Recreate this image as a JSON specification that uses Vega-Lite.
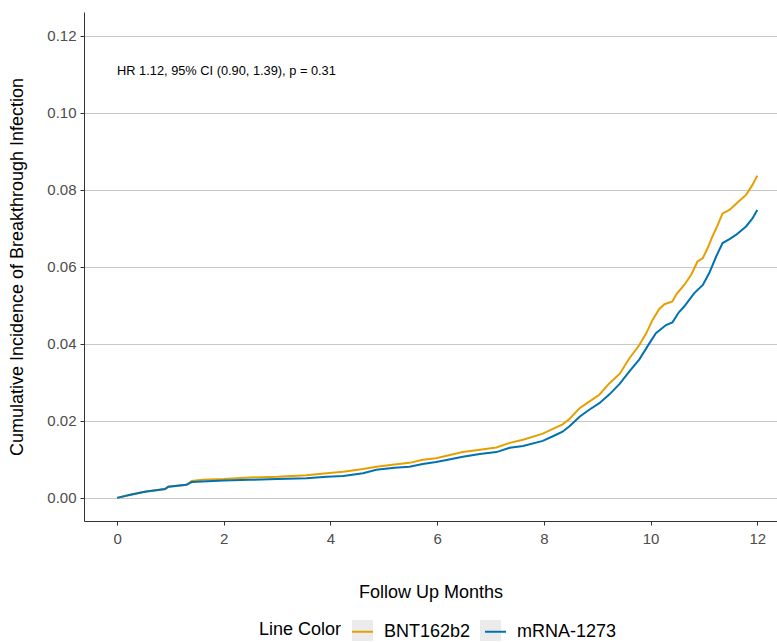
{
  "$schema": "https://vega.github.io/schema/vega-lite/v6.json",
  "width": 693,
  "height": 509,
  "autosize": {"type": "none"},
  "padding": {"left": 84, "top": 12, "right": 0, "bottom": 121},
  "background": "white",
  "config": {
    "view": {"stroke": null},
    "font": "Liberation Sans",
    "axis": {
      "domainColor": "#333333",
      "domainWidth": 1,
      "tickColor": "#333333",
      "tickSize": 4,
      "labelColor": "#4D4D4D",
      "labelFontSize": 15,
      "titleColor": "#000000",
      "titleFontSize": 18,
      "titleFontWeight": "normal",
      "gridColor": "#C8C8C8",
      "gridWidth": 1
    }
  },
  "datasets": {
    "curves": [
      {"month": 0, "incidence": 0, "vaccine": "BNT162b2"},
      {"month": 0.25, "incidence": 0.0008, "vaccine": "BNT162b2"},
      {"month": 0.52, "incidence": 0.0016, "vaccine": "BNT162b2"},
      {"month": 0.9, "incidence": 0.0023, "vaccine": "BNT162b2"},
      {"month": 0.96, "incidence": 0.0029, "vaccine": "BNT162b2"},
      {"month": 1.3, "incidence": 0.0034, "vaccine": "BNT162b2"},
      {"month": 1.4, "incidence": 0.0044, "vaccine": "BNT162b2"},
      {"month": 1.6, "incidence": 0.0047, "vaccine": "BNT162b2"},
      {"month": 2.0, "incidence": 0.0049, "vaccine": "BNT162b2"},
      {"month": 2.49, "incidence": 0.0053, "vaccine": "BNT162b2"},
      {"month": 3.0, "incidence": 0.0055, "vaccine": "BNT162b2"},
      {"month": 3.55, "incidence": 0.0059, "vaccine": "BNT162b2"},
      {"month": 3.93, "incidence": 0.0064, "vaccine": "BNT162b2"},
      {"month": 4.24, "incidence": 0.0068, "vaccine": "BNT162b2"},
      {"month": 4.61, "incidence": 0.0075, "vaccine": "BNT162b2"},
      {"month": 4.86, "incidence": 0.0081, "vaccine": "BNT162b2"},
      {"month": 5.2, "incidence": 0.0087, "vaccine": "BNT162b2"},
      {"month": 5.48, "incidence": 0.0091, "vaccine": "BNT162b2"},
      {"month": 5.73, "incidence": 0.0099, "vaccine": "BNT162b2"},
      {"month": 5.98, "incidence": 0.0103, "vaccine": "BNT162b2"},
      {"month": 6.2, "incidence": 0.011, "vaccine": "BNT162b2"},
      {"month": 6.48, "incidence": 0.0119, "vaccine": "BNT162b2"},
      {"month": 6.8, "incidence": 0.0125, "vaccine": "BNT162b2"},
      {"month": 7.11, "incidence": 0.0131, "vaccine": "BNT162b2"},
      {"month": 7.36, "incidence": 0.0143, "vaccine": "BNT162b2"},
      {"month": 7.61, "incidence": 0.0151, "vaccine": "BNT162b2"},
      {"month": 7.98, "incidence": 0.0167, "vaccine": "BNT162b2"},
      {"month": 8.2, "incidence": 0.0181, "vaccine": "BNT162b2"},
      {"month": 8.35, "incidence": 0.0191, "vaccine": "BNT162b2"},
      {"month": 8.48, "incidence": 0.0205, "vaccine": "BNT162b2"},
      {"month": 8.67, "incidence": 0.0233, "vaccine": "BNT162b2"},
      {"month": 8.85, "incidence": 0.025, "vaccine": "BNT162b2"},
      {"month": 9.04, "incidence": 0.0268, "vaccine": "BNT162b2"},
      {"month": 9.23, "incidence": 0.0298, "vaccine": "BNT162b2"},
      {"month": 9.42, "incidence": 0.0322, "vaccine": "BNT162b2"},
      {"month": 9.6, "incidence": 0.0362, "vaccine": "BNT162b2"},
      {"month": 9.79, "incidence": 0.0397, "vaccine": "BNT162b2"},
      {"month": 9.92, "incidence": 0.0428, "vaccine": "BNT162b2"},
      {"month": 10.04, "incidence": 0.0463, "vaccine": "BNT162b2"},
      {"month": 10.16, "incidence": 0.049, "vaccine": "BNT162b2"},
      {"month": 10.26, "incidence": 0.0503, "vaccine": "BNT162b2"},
      {"month": 10.41, "incidence": 0.051, "vaccine": "BNT162b2"},
      {"month": 10.48, "incidence": 0.0528, "vaccine": "BNT162b2"},
      {"month": 10.63, "incidence": 0.0553, "vaccine": "BNT162b2"},
      {"month": 10.76, "incidence": 0.0579, "vaccine": "BNT162b2"},
      {"month": 10.88, "incidence": 0.0614, "vaccine": "BNT162b2"},
      {"month": 10.98, "incidence": 0.0623, "vaccine": "BNT162b2"},
      {"month": 11.07, "incidence": 0.0649, "vaccine": "BNT162b2"},
      {"month": 11.16, "incidence": 0.0679, "vaccine": "BNT162b2"},
      {"month": 11.26, "incidence": 0.0709, "vaccine": "BNT162b2"},
      {"month": 11.35, "incidence": 0.0739, "vaccine": "BNT162b2"},
      {"month": 11.48, "incidence": 0.0748, "vaccine": "BNT162b2"},
      {"month": 11.63, "incidence": 0.0767, "vaccine": "BNT162b2"},
      {"month": 11.79, "incidence": 0.0787, "vaccine": "BNT162b2"},
      {"month": 11.91, "incidence": 0.0813, "vaccine": "BNT162b2"},
      {"month": 12.0, "incidence": 0.0837, "vaccine": "BNT162b2"},
      {"month": 0, "incidence": 0, "vaccine": "mRNA-1273"},
      {"month": 0.25, "incidence": 0.0008, "vaccine": "mRNA-1273"},
      {"month": 0.52, "incidence": 0.0016, "vaccine": "mRNA-1273"},
      {"month": 0.9, "incidence": 0.0023, "vaccine": "mRNA-1273"},
      {"month": 0.96, "incidence": 0.0029, "vaccine": "mRNA-1273"},
      {"month": 1.3, "incidence": 0.0034, "vaccine": "mRNA-1273"},
      {"month": 1.4, "incidence": 0.0041, "vaccine": "mRNA-1273"},
      {"month": 2.0, "incidence": 0.0045, "vaccine": "mRNA-1273"},
      {"month": 2.49, "incidence": 0.0047, "vaccine": "mRNA-1273"},
      {"month": 3.0, "incidence": 0.0049, "vaccine": "mRNA-1273"},
      {"month": 3.55, "incidence": 0.0051, "vaccine": "mRNA-1273"},
      {"month": 3.93, "incidence": 0.0055, "vaccine": "mRNA-1273"},
      {"month": 4.24, "incidence": 0.0057, "vaccine": "mRNA-1273"},
      {"month": 4.61, "incidence": 0.0064, "vaccine": "mRNA-1273"},
      {"month": 4.86, "incidence": 0.0073, "vaccine": "mRNA-1273"},
      {"month": 5.2, "incidence": 0.0078, "vaccine": "mRNA-1273"},
      {"month": 5.48, "incidence": 0.0081, "vaccine": "mRNA-1273"},
      {"month": 5.73, "incidence": 0.0088, "vaccine": "mRNA-1273"},
      {"month": 5.98, "incidence": 0.0093, "vaccine": "mRNA-1273"},
      {"month": 6.2, "incidence": 0.0099, "vaccine": "mRNA-1273"},
      {"month": 6.48, "incidence": 0.0107, "vaccine": "mRNA-1273"},
      {"month": 6.8, "incidence": 0.0114, "vaccine": "mRNA-1273"},
      {"month": 7.11, "incidence": 0.0119, "vaccine": "mRNA-1273"},
      {"month": 7.36, "incidence": 0.013, "vaccine": "mRNA-1273"},
      {"month": 7.61, "incidence": 0.0135, "vaccine": "mRNA-1273"},
      {"month": 7.98, "incidence": 0.0148, "vaccine": "mRNA-1273"},
      {"month": 8.2, "incidence": 0.0162, "vaccine": "mRNA-1273"},
      {"month": 8.35, "incidence": 0.0172, "vaccine": "mRNA-1273"},
      {"month": 8.48, "incidence": 0.0186, "vaccine": "mRNA-1273"},
      {"month": 8.67, "incidence": 0.0211, "vaccine": "mRNA-1273"},
      {"month": 8.85, "incidence": 0.0229, "vaccine": "mRNA-1273"},
      {"month": 9.04, "incidence": 0.0246, "vaccine": "mRNA-1273"},
      {"month": 9.23, "incidence": 0.0269, "vaccine": "mRNA-1273"},
      {"month": 9.42, "incidence": 0.0296, "vaccine": "mRNA-1273"},
      {"month": 9.6, "incidence": 0.0328, "vaccine": "mRNA-1273"},
      {"month": 9.79, "incidence": 0.036, "vaccine": "mRNA-1273"},
      {"month": 9.98, "incidence": 0.0402, "vaccine": "mRNA-1273"},
      {"month": 10.1, "incidence": 0.0428, "vaccine": "mRNA-1273"},
      {"month": 10.29, "incidence": 0.0449, "vaccine": "mRNA-1273"},
      {"month": 10.41, "incidence": 0.0456, "vaccine": "mRNA-1273"},
      {"month": 10.53, "incidence": 0.0482, "vaccine": "mRNA-1273"},
      {"month": 10.63, "incidence": 0.0497, "vaccine": "mRNA-1273"},
      {"month": 10.82, "incidence": 0.0532, "vaccine": "mRNA-1273"},
      {"month": 10.98, "incidence": 0.0553, "vaccine": "mRNA-1273"},
      {"month": 11.1, "incidence": 0.0584, "vaccine": "mRNA-1273"},
      {"month": 11.23, "incidence": 0.0627, "vaccine": "mRNA-1273"},
      {"month": 11.35, "incidence": 0.0662, "vaccine": "mRNA-1273"},
      {"month": 11.48, "incidence": 0.0672, "vaccine": "mRNA-1273"},
      {"month": 11.6, "incidence": 0.0683, "vaccine": "mRNA-1273"},
      {"month": 11.79, "incidence": 0.0705, "vaccine": "mRNA-1273"},
      {"month": 11.91, "incidence": 0.0726, "vaccine": "mRNA-1273"},
      {"month": 12.0, "incidence": 0.0748, "vaccine": "mRNA-1273"}
    ],
    "keys": [
      {"key": "k1"},
      {"key": "k2"}
    ],
    "note": [
      {"month": 0, "incidence": 0.111, "label": "HR 1.12, 95% CI (0.90, 1.39), p = 0.31"}
    ]
  },
  "layer": [
    {
      "data": {"name": "keys"},
      "mark": {"type": "point", "filled": true, "opacity": 0, "shape": "square"},
      "encoding": {
        "fill": {
          "field": "key", "type": "nominal",
          "scale": {"domain": ["k1", "k2"], "range": ["#EBEBEB", "#EBEBEB"]},
          "legend": {
            "title": null,
            "orient": "none",
            "direction": "horizontal",
            "legendX": 268,
            "legendY": 608,
            "zindex": 0,
            "labelFontSize": 18,
            "labelExpr": "''",
            "symbolType": "square",
            "symbolOpacity": 1,
            "symbolStrokeWidth": 0,
            "symbolSize": 441,
            "columnPadding": 107,
            "labelOffset": 0
          }
        }
      }
    },
    {
      "data": {"name": "curves"},
      "mark": {"type": "line", "interpolate": "linear", "strokeWidth": 2, "clip": true},
      "encoding": {
        "x": {
          "field": "month", "type": "quantitative",
          "scale": {"domain": [-0.62, 12.37], "nice": false, "zero": false},
          "axis": {"title": "Follow Up Months", "values": [0, 2, 4, 6, 8, 10, 12], "grid": false, "labelPadding": 6, "titlePadding": 37}
        },
        "y": {
          "field": "incidence", "type": "quantitative",
          "scale": {"domain": [-0.006, 0.1262], "nice": false, "zero": false},
          "axis": {"title": "Cumulative Incidence of Breakthrough Infection", "values": [0, 0.02, 0.04, 0.06, 0.08, 0.1, 0.12], "format": ".2f", "grid": true, "labelPadding": 4, "titlePadding": 20}
        },
        "color": {
          "field": "vaccine", "type": "nominal",
          "scale": {"domain": ["BNT162b2", "mRNA-1273"], "range": ["#E69F00", "#0072B2"]},
          "legend": {
            "title": "Line Color",
            "orient": "none",
            "direction": "horizontal",
            "legendX": 175,
            "legendY": 608,
            "zindex": 1,
            "titleOrient": "left",
            "titleFontSize": 18,
            "titleFontWeight": "normal",
            "titleColor": "#000000",
            "titlePadding": 9,
            "labelFontSize": 18,
            "labelColor": "#000000",
            "symbolType": "stroke",
            "symbolStrokeWidth": 2,
            "symbolSize": 441,
            "columnPadding": 10,
            "labelOffset": 10
          }
        }
      }
    },
    {
      "data": {"name": "note"},
      "mark": {"type": "text", "align": "left", "baseline": "middle", "fontSize": 12.8, "color": "#000000"},
      "encoding": {
        "x": {"field": "month", "type": "quantitative"},
        "y": {"field": "incidence", "type": "quantitative"},
        "text": {"field": "label"}
      }
    }
  ]
}
